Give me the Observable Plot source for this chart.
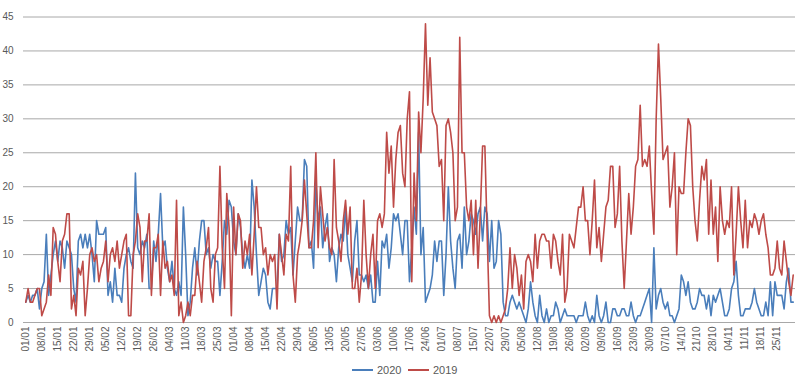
<!DOCTYPE html>
<html><head><meta charset="utf-8">
<script src="https://cdn.jsdelivr.net/npm/d3@7"></script>
<script src="https://cdn.jsdelivr.net/npm/@observablehq/plot@0.6"></script>
<style>
body{margin:0;background:#fff;font-family:"Liberation Sans",Arial,sans-serif;}
#chart svg{display:block;}
#legend{position:relative;width:800px;height:31px;font-size:11px;color:#595959;}
.item{position:absolute;top:9px;display:flex;align-items:center;gap:4px;}
.sw{display:inline-block;width:21px;height:2px;}
</style></head><body>
<div id="chart"></div>
<div id="legend"></div>
<script>
const tickLabels = ["01/01","08/01","15/01","22/01","29/01","05/02","12/02","19/02","26/02","04/03","11/03","18/03","25/03","01/04","08/04","15/04","22/04","29/04","06/05","13/05","20/05","27/05","03/06","10/06","17/06","24/06","01/07","08/07","15/07","22/07","29/07","05/08","12/08","19/08","26/08","02/09","09/09","16/09","23/09","30/09","07/10","14/10","21/10","28/10","04/11","11/11","18/11","25/11"];
const seriesNames = ["2020","2019"];
const seriesColors = ["#4A7EBB","#BE4B48"];
const values2020 = [
3,4,3,4,4,5,2,5,6,13,
4,7,10,12,9,12,11,8,12,11,
10,5,3,12,13,11,13,11,13,10,
6,15,13,13,13,14,4,6,3,8,
4,4,3,8,10,11,9,8,22,11,
10,12,11,13,5,5,12,9,13,19,
11,12,8,6,9,5,4,6,4,17,
10,1,3,8,11,7,12,15,15,10,
11,8,10,9,9,4,9,15,13,18,
17,12,10,16,14,10,8,10,8,21,
17,10,4,6,8,7,3,2,5,5,
5,13,9,10,15,13,14,7,12,17,
15,15,24,23,11,12,8,21,15,17,
11,14,16,9,11,10,6,11,13,12,
17,10,8,6,12,15,7,7,6,7,
5,7,3,3,9,4,12,11,13,8,
11,16,15,16,13,10,15,15,6,11,
17,13,28,10,14,3,4,5,7,12,
9,12,12,4,10,20,12,8,5,12,
13,8,17,10,12,16,15,13,16,17,
12,17,16,9,15,8,9,15,13,3,
1,1,3,4,3,2,3,2,1,0,
2,6,3,1,0,4,1,0,2,0,
1,1,3,2,0,1,2,1,1,1,
1,0,1,1,1,3,1,0,1,0,
4,1,0,1,3,0,0,2,2,1,
1,2,2,1,1,3,1,0,1,1,
2,3,4,5,0,11,2,4,5,3,
2,3,1,1,0,1,2,7,6,4,
6,3,2,2,3,5,4,4,2,4,
1,4,3,4,5,3,1,1,2,5,
6,9,4,1,1,2,2,2,3,5,
3,2,1,1,3,1,6,1,6,4,
4,4,2,6,8,3,3];
const values2019 = [
3,5,3,3,4,5,5,1,2,3,
7,4,14,13,9,6,12,13,16,16,
2,4,1,8,7,9,1,5,10,11,
9,10,6,8,9,12,6,10,11,9,
12,8,10,12,13,1,1,10,12,16,
14,6,12,12,16,4,11,11,13,4,
12,8,9,6,7,4,18,1,3,0,
1,3,1,4,4,9,6,3,9,11,
14,5,3,10,11,23,11,5,19,14,
1,17,10,16,15,8,12,10,13,7,
13,20,14,14,10,11,7,10,9,10,
2,13,10,7,13,12,23,7,3,10,
12,15,21,16,11,11,15,25,11,20,
16,12,14,11,10,24,14,12,9,15,
18,13,17,5,5,8,3,7,18,10,
5,10,13,5,15,16,14,16,28,22,
26,17,24,28,29,22,20,30,34,6,
22,15,31,25,33,44,32,39,31,30,
29,23,24,15,29,30,28,25,15,17,
42,25,25,17,15,18,10,18,8,16,
26,26,13,1,0,1,0,1,0,1,
2,5,11,5,10,8,4,7,2,9,
10,9,6,13,8,12,13,13,12,12,
8,13,12,9,7,13,3,5,13,12,
11,14,17,17,20,15,15,10,15,21,
11,14,9,13,17,18,23,23,14,16,
23,12,5,12,19,13,17,23,24,32,
23,24,23,26,19,13,30,41,33,24,
25,26,17,20,25,10,20,19,19,25,
30,29,20,15,12,18,23,21,24,13,
21,13,17,9,20,15,13,15,14,20,
7,13,20,15,11,18,11,15,14,16,
15,13,15,16,13,11,7,7,8,12,
8,7,12,9,6,4,7];

const rows = [];
values2020.forEach((v,i)=>rows.push({day:i, value:v, series:seriesNames[0]}));
values2019.forEach((v,i)=>rows.push({day:i, value:v, series:seriesNames[1]}));
const tickDays = tickLabels.map((_,k)=>k*7);
const yTicks = d3.range(0,46,5);

const chart = Plot.plot({
  width: 800, height: 355,
  marginLeft: 23, marginRight: 5, marginTop: 16.5, marginBottom: 33,
  style: {fontFamily: "Liberation Sans, Arial, sans-serif", fontSize: "10px", color: "#595959", background: "#fff"},
  x: {domain: [-1, values2020.length], label: null},
  y: {domain: [0, 45], label: null},
  color: {domain: seriesNames, range: seriesColors},
  marks: [
    Plot.gridY(yTicks, {stroke: "#a8a8a8", strokeOpacity: 1, strokeWidth: 1}),
    Plot.axisY(yTicks, {tickSize: 0, tickPadding: 10, fontSize: 10, label: null}),
    Plot.axisX(tickDays, {tickSize: 0, tickPadding: 4, tickRotate: -90, tickFormat: d => tickLabels[d/7], fontSize: 10, label: null}),
    Plot.lineY(rows, {x: "day", y: "value", z: "series", stroke: "series", strokeWidth: 1.6})
  ]
});
document.getElementById("chart").appendChild(chart);

const legend = document.getElementById("legend");
const lx = [352, 408];
seriesNames.forEach((n,i)=>{
  const it = document.createElement("div");
  it.className = "item";
  it.style.left = lx[i] + "px";
  it.innerHTML = `<span class="sw" style="background:${seriesColors[i]}"></span><span>${n}</span>`;
  legend.appendChild(it);
});
</script>
</body></html>
